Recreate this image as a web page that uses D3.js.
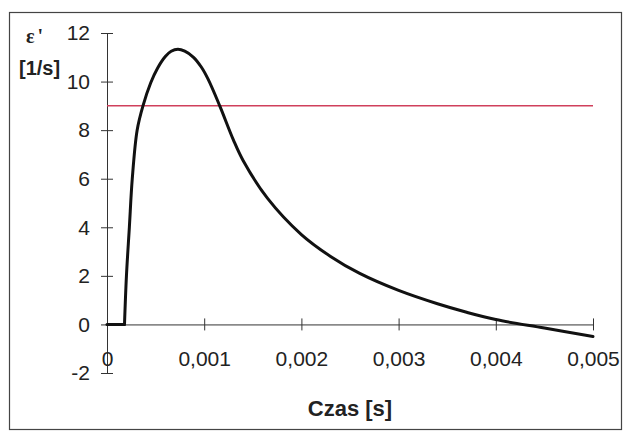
<!DOCTYPE html>
<html><head><meta charset="utf-8">
<script src="https://cdn.jsdelivr.net/npm/d3@7"></script>
<style>body{margin:0;background:#fff}svg{display:block}</style>
</head><body>
<script>
const times = [0, 0.00018, 0.0002, 0.00023, 0.00026, 0.00031, 0.00037, 0.00045, 0.00052, 0.0006, 0.00066, 0.00073, 0.0008, 0.00089, 0.00097, 0.00104, 0.00116, 0.0013, 0.0014, 0.00165, 0.002, 0.0023, 0.0026, 0.003, 0.0034, 0.0037, 0.004, 0.0045, 0.005];
const strainRate = [0, 0, 2, 4, 6, 8, 9.0, 9.95, 10.55, 11.03, 11.25, 11.33, 11.25, 11.0, 10.6, 10.1, 9.0, 7.6, 6.75, 5.2, 3.7, 2.8, 2.1, 1.4, 0.85, 0.5, 0.2, -0.15, -0.5];
const limitValue = 9;
const limitRange = [0, 0.005];
const xTicks = [0, 0.001, 0.002, 0.003, 0.004, 0.005];
const xTickLabels = ["0", "0,001", "0,002", "0,003", "0,004", "0,005"];
const yTicks = [-2, 0, 2, 4, 6, 8, 10, 12];
const xTitle = "Czas [s]";
const yTitle1 = "ε'";
const yTitle2 = "[1/s]";

const W = 624, H = 432;
const svg = d3.select("body").append("svg").attr("width", W).attr("height", H);
svg.append("rect").attr("x", 9.5).attr("y", 12.5).attr("width", 612).attr("height", 417)
  .attr("fill", "#fff").attr("stroke", "#444").attr("stroke-width", 1.2);

const x = d3.scaleLinear().domain([0, 0.005]).range([107, 593]);
const y = d3.scaleLinear().domain([-2, 12]).range([373, 33]);
const font = "'Liberation Sans', Arial, sans-serif";

// y axis
const yAxis = svg.append("g").attr("transform", `translate(${x(0)},0)`)
  .call(d3.axisLeft(y).tickValues(yTicks).tickSize(0).tickPadding(17).tickFormat(d => d));
yAxis.select(".domain").attr("stroke", "#333").attr("stroke-width", 1);
yAxis.selectAll("text").attr("font-family", font).attr("font-size", 21).attr("fill", "#222");
yAxis.selectAll(".tick").append("line").attr("x1", -6).attr("x2", 6).attr("stroke", "#333");

// x axis at y=0
const xAxis = svg.append("g").attr("transform", `translate(0,${y(0)})`)
  .call(d3.axisBottom(x).tickValues(xTicks).tickSize(0).tickPadding(27)
    .tickFormat((d, i) => xTickLabels[i]));
xAxis.select(".domain").attr("stroke", "#333").attr("stroke-width", 1);
xAxis.selectAll("text").attr("font-family", font).attr("font-size", 21).attr("fill", "#222");
xAxis.selectAll(".tick").append("line").attr("y1", -6).attr("y2", 6).attr("stroke", "#333");

// limit line
svg.append("line").attr("x1", x(limitRange[0])).attr("x2", x(limitRange[1]))
  .attr("y1", y(limitValue)).attr("y2", y(limitValue))
  .attr("stroke", "#d0405c").attr("stroke-width", 1.5);

// curve: flat start drawn straight, the rest smoothed
const data = times.map((t, i) => [t, strainRate[i]]);
const flat = data.filter(d => d[0] <= 0.00018);
const rest = data.filter(d => d[0] >= 0.00018);
svg.append("path").datum(flat)
  .attr("d", d3.line().x(d => x(d[0])).y(d => y(d[1])))
  .attr("fill", "none").attr("stroke", "#111").attr("stroke-width", 3).attr("stroke-linecap", "round");
svg.append("path").datum(rest)
  .attr("d", d3.line().x(d => x(d[0])).y(d => y(d[1])).curve(d3.curveCatmullRom.alpha(0.5)))
  .attr("fill", "none").attr("stroke", "#111").attr("stroke-width", 3).attr("stroke-linecap", "round");

// titles
svg.append("text").attr("x", 350).attr("y", 416).attr("text-anchor", "middle")
  .attr("font-family", font).attr("font-weight", "bold").attr("font-size", 22).attr("fill", "#222").text(xTitle);
svg.append("text").attr("x", 26).attr("y", 43).attr("letter-spacing", 3)
  .attr("font-family", "'Liberation Serif', serif").attr("font-weight", "bold").attr("font-size", 20).attr("fill", "#222").text(yTitle1);
svg.append("text").attr("x", 19).attr("y", 75)
  .attr("font-family", font).attr("font-weight", "bold").attr("font-size", 20).attr("fill", "#222").text(yTitle2);
</script>
</body></html>
